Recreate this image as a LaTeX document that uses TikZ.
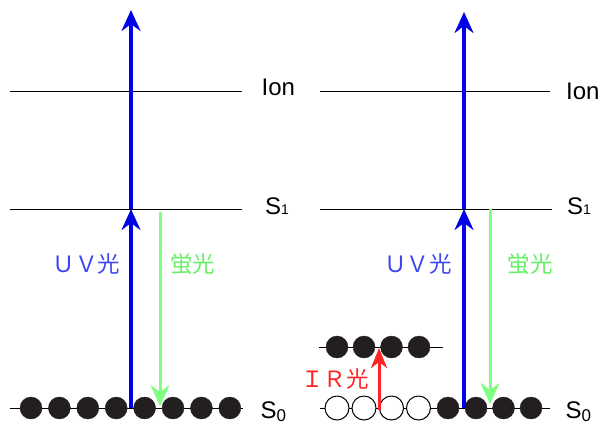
\documentclass[tikz,border=0pt]{standalone}
\usepackage{fontspec}
\setmainfont{Liberation Sans}
\newfontfamily\cjk{Noto Sans CJK JP}
\usetikzlibrary{arrows.meta}
\definecolor{uvblue}{RGB}{0,0,230}
\definecolor{uvtext}{RGB}{60,70,240}
\definecolor{flgreen}{RGB}{128,255,128}
\definecolor{fltext}{RGB}{100,240,100}
\definecolor{irred}{RGB}{255,35,35}
\definecolor{dotblack}{RGB}{35,31,32}
\newcommand{\supone}{{\fontsize{14}{14}\selectfont\raisebox{0.5pt}{1}}}
\newcommand{\subzero}{{\fontsize{17}{17}\selectfont\raisebox{-3pt}{0}}}
\begin{document}
\begin{tikzpicture}[x=1pt,y=-1pt,
  level/.style={line width=1pt,black},
  lbl/.style={anchor=base west,inner sep=0pt,font=\fontsize{24}{26}\selectfont},
  jlbl/.style={inner sep=0pt,font=\cjk\fontsize{22.5}{24}\selectfont},
  bigtip/.style={-{Stealth[length=21pt,width=19pt,inset=7pt]}},
  smalltip/.style={-{Stealth[length=20pt,width=16pt,inset=6pt]}},
  uvarrow/.style={bigtip,uvblue,line width=3.5pt},
  flarrow/.style={bigtip,flgreen,line width=3pt},
  irarrow/.style={smalltip,irred,line width=3pt},
  full/.style={circle,fill=dotblack,draw=dotblack,minimum size=22pt,inner sep=0pt},
  hollow/.style={circle,fill=white,draw=black,line width=1pt,minimum size=24pt,inner sep=0pt}]
\useasboundingbox (0,0) rectangle (601,424);

% ---------- left panel ----------
\coordinate (LIa) at (10,91);   \coordinate (LIb) at (242,91);
\coordinate (LSa) at (10,209);  \coordinate (LSb) at (242,209);
\coordinate (LGa) at (10,408);  \coordinate (LGb) at (243,408);
\draw[level] (LIa) -- (LIb);
\draw[level] (LSa) -- (LSb);
\draw[level] (LGa) -- (LGb);
\node[lbl] (LIon) at (261.5,95) {Ion};
\node[lbl] (LS1) at (265,214.5) {S\supone};
\node[lbl] (LS0) at (260.5,418.5) {S\subzero};
\foreach \i in {0,...,7}
  \node[full] (Ld\i) at (31+28.4*\i,408) {};

\coordinate (LUa) at (131,408);
\coordinate (LUb) at (131,209);
\coordinate (LUc) at (131,10);
\draw[uvarrow] (LUa) -- (LUb);
\draw[uvarrow] (LUb) -- (LUc);
\coordinate (LFa) at (160,212);
\coordinate (LFb) at (160,406);
\draw[flarrow] (LFa) -- (LFb);
\node[jlbl,text=uvtext] (LUV) at (86.5,264) {ＵＶ光};
\node[jlbl,text=fltext] (LFL) at (192.5,264) {蛍光};

% ---------- right panel ----------
\coordinate (RIa) at (320,91);  \coordinate (RIb) at (550,91);
\coordinate (RSa) at (320,209); \coordinate (RSb) at (552,209);
\coordinate (RGa) at (320,408); \coordinate (RGb) at (550,408);
\coordinate (RVa) at (319,347); \coordinate (RVb) at (443,347);
\draw[level] (RIa) -- (RIb);
\draw[level] (RSa) -- (RSb);
\draw[level] (RGa) -- (RGb);
\draw[level] (RVa) -- (RVb);
\node[lbl] (RIon) at (566,99) {Ion};
\node[lbl] (RS1) at (567,214.5) {S\supone};
\node[lbl] (RS0) at (565.5,418.5) {S\subzero};
\foreach \i/\x in {0/337,1/364,2/391.5,3/418.5}
  \node[hollow] (Rh\i) at (\x,408) {};
\foreach \i/\x in {0/448,1/476,2/503.5,3/531}
  \node[full] (Rd\i) at (\x,408) {};
\foreach \i/\x in {0/337,1/364,2/391.5,3/419}
  \node[full] (Rv\i) at (\x,347) {};

\coordinate (RUa) at (464,408);
\coordinate (RUb) at (464,209);
\coordinate (RUc) at (464,12);
\draw[uvarrow] (RUa) -- (RUb);
\draw[uvarrow] (RUb) -- (RUc);
\coordinate (RFa) at (490,209);
\coordinate (RFb) at (490,404);
\draw[flarrow] (RFa) -- (RFb);
\coordinate (RRa) at (379,410);
\coordinate (RRb) at (379,348);
\draw[irarrow] (RRa) -- (RRb);
\node[jlbl,text=uvtext] (RUV) at (418,264) {ＵＶ光};
\node[jlbl,text=fltext] (RFL) at (530,264) {蛍光};
\node[jlbl,text=irred] (RIR) at (335,379) {ＩＲ光};
\end{tikzpicture}
\end{document}
